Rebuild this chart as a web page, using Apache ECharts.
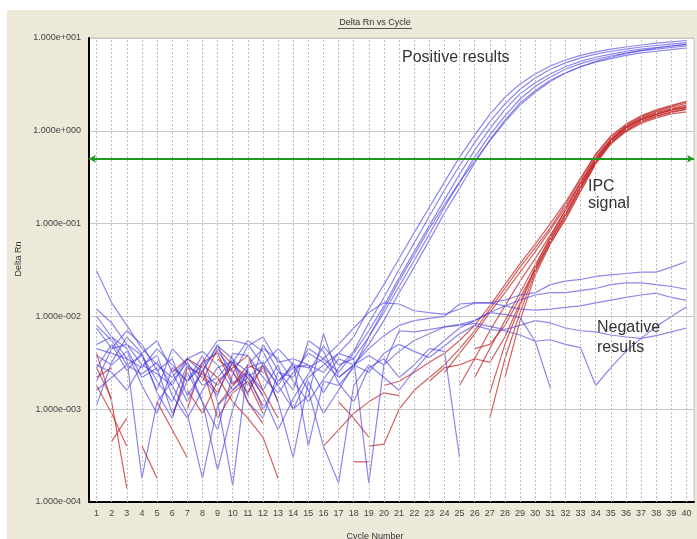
<!DOCTYPE html>
<html>
<head>
<meta charset="utf-8">
<script src="https://cdn.jsdelivr.net/npm/echarts@6/dist/echarts.min.js"></script>
<style>
html, body { margin: 0; padding: 0; width: 697px; height: 539px; background: #ffffff; overflow: hidden; }
#bg { position: absolute; left: 7px; top: 10px; width: 690px; height: 529px; background: #ECE9D8; }
#chart { position: absolute; left: 0; top: 0; width: 697px; height: 539px; }
</style>
</head>
<body>
<div id="bg"></div>
<div id="chart"></div>
<script>
// ---------- data ----------
const cycles = ['1','2','3','4','5','6','7','8','9','10','11','12','13','14','15','16','17','18','19','20',
                '21','22','23','24','25','26','27','28','29','30','31','32','33','34','35','36','37','38','39','40'];

const yTickLabels = ['1.000e-004','1.000e-003','1.000e-002','1.000e-001','1.000e+000','1.000e+001'];

const thresholdValue = 0.5;

// Positive samples (blue)
const pos1 = [0.031,0.014,0.0080,0.0045,0.0030,0.0022,0.0035,0.0025,0.0018,0.0032,
              0.0055,0.0042,0.0020,0.0028,0.0030,0.0025,0.0040,0.0060,0.012,0.022,
              0.042,0.080,0.15,0.28,0.52,0.90,1.5,2.3,3.2,4.1,
              5.0,5.8,6.5,7.1,7.6,8.0,8.4,8.8,9.1,9.4];
const pos2 = [0.012,0.0085,0.0050,0.0038,0.0016,0.0045,0.0030,0.0012,0.0006,0.0024,
              0.0048,0.0060,0.0032,0.0035,0.0030,0.0015,0.0028,0.0042,0.0085,0.016,
              0.032,0.062,0.12,0.23,0.42,0.75,1.25,1.95,2.8,3.7,
              4.6,5.4,6.1,6.7,7.2,7.6,8.0,8.3,8.6,8.9];
const pos3 = [0.0100,0.0060,0.0045,0.0022,0.0028,0.0009,0.0020,0.0030,0.0042,0.0026,
              0.0012,0.0008,0.0025,0.0022,0.0045,0.0035,0.0025,0.0040,0.0070,0.013,
              0.026,0.050,0.095,0.18,0.34,0.62,1.05,1.7,2.5,3.3,
              4.1,4.9,5.6,6.2,6.7,7.2,7.6,7.9,8.2,8.5];
const pos4 = [0.0075,0.0045,0.0070,0.0050,0.0026,0.0035,0.0014,0.0025,0.0050,0.0019,
              0.0026,0.0014,0.0006,0.0013,0.0024,0.0048,0.0030,0.0035,0.0060,0.011,
              0.021,0.040,0.077,0.15,0.28,0.52,0.90,1.45,2.2,3.0,
              3.8,4.6,5.3,5.9,6.4,6.9,7.3,7.6,7.9,8.2];
const pos5 = [0.0045,0.0040,0.0035,0.00018,0.0012,0.0020,0.0032,0.0018,0.0022,0.0034,
              0.0025,0.0016,0.0030,0.0010,0.0014,0.0065,0.0022,0.0030,0.0050,0.0090,
              0.018,0.034,0.066,0.13,0.24,0.45,0.80,1.3,2.0,2.7,
              3.5,4.2,4.9,5.5,6.0,6.5,6.9,7.2,7.5,7.8];
const pos6 = [0.0011,0.0032,0.0060,0.0040,0.0015,0.0008,0.0025,0.0012,0.00022,0.0010,
              0.0028,0.0032,0.0018,0.0032,0.0004,0.0020,0.0018,0.0028,0.0060,0.012,
              0.024,0.046,0.088,0.16,0.28,0.47,0.78,1.25,1.9,2.6,
              3.4,4.2,4.9,5.6,6.2,6.8,7.3,7.8,8.2,8.6];

// Negative samples (blue)
const neg1 = [0.0050,0.0060,0.0035,0.0028,0.0045,0.0030,0.0020,0.0032,0.0055,0.0055,
              0.0050,0.0030,0.0045,0.0030,0.0028,0.0035,0.0050,0.0075,0.011,0.014,
              0.0136,0.0115,0.011,0.0105,0.012,0.014,0.014,0.015,0.017,0.018,
              0.022,0.024,0.025,0.027,0.028,0.029,0.030,0.030,0.034,0.039];
const neg2 = [0.0030,0.0025,0.0016,0.0030,0.0024,0.0018,0.0035,0.0042,0.0030,0.0016,
              0.0022,0.0030,0.0018,0.0010,0.0022,0.0030,0.0040,0.0035,0.00016,0.0030,
              0.0070,0.0068,0.0072,0.0077,0.0082,0.0090,0.011,0.013,0.015,0.017,
              0.018,0.018,0.019,0.020,0.022,0.023,0.023,0.022,0.021,0.0196];
const neg3 = [0.0080,0.0055,0.0030,0.0038,0.0020,0.0012,0.0030,0.0022,0.0014,0.0040,
              0.0038,0.0022,0.0015,0.0025,0.0040,0.0032,0.0022,0.0030,0.0045,0.0062,
              0.0080,0.0090,0.0095,0.010,0.0136,0.014,0.014,0.013,0.012,0.0117,
              0.012,0.0125,0.013,0.014,0.015,0.016,0.017,0.0178,0.016,0.0149];
const neg4 = [0.0038,0.0030,0.0042,0.0018,0.0009,0.0028,0.0020,0.0038,0.0012,0.00015,
              0.0030,0.0045,0.0035,0.0020,0.0012,0.0021,0.0035,0.0030,0.0025,0.0040,
              0.0050,0.0042,0.0036,0.0048,0.0065,0.0080,0.0072,0.0070,0.0063,0.0054,
              0.0056,0.0050,0.0046,0.0018,0.0028,0.0042,0.0058,0.0078,0.010,0.0126];
const neg5 = [0.0020,0.0045,0.0050,0.0030,0.0038,0.0014,0.0008,0.0016,0.0028,0.0033,
              0.0018,0.0028,0.0012,0.0003,0.0020,0.0009,0.0016,0.0030,0.0038,0.0030,
              0.0042,0.0055,0.0065,0.0077,0.0080,0.0084,0.0078,0.0072,0.0080,0.0090,
              0.0085,0.0075,0.0070,0.0068,0.0063,0.0060,0.0058,0.0062,0.0068,0.0075];
const neg6 = [0.0016,0.0022,0.0030,0.0024,0.0032,0.0018,0.0009,0.00018,0.0011,0.0016,
              0.0024,0.0010,0.0020,0.0030,0.0016,0.0004,0.00016,0.0018,0.0030,0.0022,
              0.0016,0.0026,0.0040,0.0055,0.0075,0.0090,0.011,0.0105,0.0097,0.0054,
              0.0017,null,null,null,null,null,null,null,null,null];
const neg7 = [0.0028,0.0050,0.0026,0.0040,0.0055,0.0025,0.0012,0.0026,0.0048,0.0035,
              0.0014,0.0050,0.0026,0.0016,0.0055,0.0042,0.0019,0.0012,0.0028,0.0035,
              0.0022,0.0030,0.0045,0.0042,0.0003,null,null,null,null,null,
              null,null,null,null,null,null,null,null,null,null];

// Internal positive control (red)
const ipc1 = [0.0040,0.0012,0.00014,null,null,null,null,0.0030,0.0022,0.0012,
              0.0008,0.0005,0.00018,null,null,null,null,null,null,null,
              null,null,null,null,null,null,0.0015,0.0050,0.013,0.032,
              0.065,0.12,0.25,0.48,0.78,1.08,1.33,1.52,1.70,1.85];
const ipc2 = [0.0022,0.0028,null,0.0004,0.00018,null,0.0010,0.0032,0.0040,0.0018,
              0.0025,0.0014,null,null,null,null,null,null,null,null,
              null,null,null,0.0025,0.0040,0.0065,0.011,0.018,0.030,0.050,
              0.085,0.15,0.28,0.52,0.82,1.12,1.38,1.60,1.80,1.98];
const ipc3 = [null,0.00045,0.0008,null,null,0.0025,0.0035,0.0028,0.0008,0.0015,
              0.0020,0.0009,null,null,null,null,null,0.00027,0.00027,null,
              null,null,null,null,null,0.0022,0.0045,0.0090,0.018,0.036,
              0.070,0.13,0.25,0.46,0.74,1.02,1.26,1.45,1.60,1.72];
const ipc4 = [0.0028,0.0013,null,null,null,null,null,null,0.0035,0.0025,
              0.0015,0.0030,0.0012,null,null,null,null,null,0.0004,0.00042,
              0.0010,0.0016,0.0022,0.0030,0.0045,0.0070,0.012,0.020,0.034,0.055,
              0.090,0.16,0.30,0.55,0.86,1.15,1.42,1.65,1.85,2.05];
const ipc5 = [null,null,null,null,null,0.0008,0.0028,0.0024,0.0015,0.0032,
              0.0012,0.0007,null,null,null,null,null,null,null,null,
              null,null,null,null,null,null,0.0008,0.0035,0.011,0.030,
              0.062,0.11,0.22,0.44,0.72,0.98,1.20,1.38,1.52,1.60];
const ipc6 = [null,null,null,null,null,null,0.0016,0.0009,0.0020,0.0028,
              0.0038,0.0016,0.0008,null,null,0.0004,0.0006,0.0009,0.0012,0.0015,
              0.0014,null,null,null,0.0018,0.0035,0.0070,0.013,0.024,0.042,
              0.075,0.14,0.27,0.50,0.80,1.08,1.32,1.50,1.68,1.80];
const ipc7 = [0.0018,0.0009,0.0004,null,null,null,null,0.0020,0.0045,0.0030,
              0.0022,0.0011,null,null,null,null,null,null,null,null,
              null,null,0.0020,0.0028,0.0030,0.0035,0.0032,0.0060,0.014,0.034,
              0.072,0.14,0.27,0.50,0.80,1.10,1.35,1.56,1.74,1.90];
const ipc8 = [null,null,null,null,null,null,null,null,0.0011,0.0018,
              0.0030,0.0025,null,null,null,null,null,null,null,0.0018,
              0.0020,0.0025,0.0032,0.0040,0.0055,0.0080,0.013,0.022,0.037,0.060,
              0.10,0.17,0.31,0.56,0.88,1.18,1.45,1.68,1.88,2.08];
const ipc9 = [null,null,null,null,0.0012,0.0006,0.0003,null,null,null,
              null,null,null,null,null,null,null,null,null,null,
              null,null,null,null,null,null,null,0.0022,0.0090,0.028,
              0.060,0.115,0.23,0.45,0.75,1.00,1.24,1.42,1.58,1.70];
const ipc10 = [null,null,null,null,null,null,null,null,null,null,
               null,null,null,null,null,null,0.0012,0.0008,0.0005,null,
               null,null,null,null,null,0.0045,0.0050,0.0080,0.016,0.032,
               0.066,0.125,0.24,0.47,0.76,1.05,1.30,1.50,1.66,1.78];

const blueSeries = [pos1,pos2,pos3,pos4,pos5,pos6,neg1,neg2,neg3,neg4,neg5,neg6,neg7];
const redSeries = [ipc1,ipc2,ipc3,ipc4,ipc5,ipc6,ipc7,ipc8,ipc9,ipc10];

// ---------- chart ----------
const FONT = '"Liberation Sans", Arial, sans-serif';
const chart = echarts.init(document.getElementById('chart'), null, {renderer: 'canvas'});

const series = [];
// vertical grid lines at each cycle
series.push({
  type: 'line', data: [], silent: true, z: 1,
  markLine: {
    silent: true, symbol: 'none', animation: false,
    label: {show: false},
    lineStyle: {color: '#bdbdbd', type: [2, 2], width: 1},
    data: cycles.map((c, i) => ({xAxis: i}))
  }
});
redSeries.forEach(d => series.push({
  type: 'line', data: d, symbol: 'none', showSymbol: false, connectNulls: false, z: 3,
  lineStyle: {color: 'rgba(195,35,35,0.72)', width: 1.2}
}));
blueSeries.forEach(d => series.push({
  type: 'line', data: d, symbol: 'none', showSymbol: false, connectNulls: false, z: 3,
  lineStyle: {color: 'rgba(70,60,225,0.62)', width: 1.2}
}));
// threshold
series.push({
  type: 'line', data: [], silent: true, z: 5,
  markLine: {
    silent: true, animation: false,
    symbol: ['arrow', 'arrow'], symbolSize: [6, 7],
    label: {show: false},
    lineStyle: {color: '#1f9a1f', type: 'solid', width: 2},
    data: [{yAxis: thresholdValue}]
  }
});

chart.setOption({
  animation: false,
  backgroundColor: 'transparent',
  grid: {left: 89, right: 3, top: 38, bottom: 37, show: true,
         backgroundColor: '#ffffff', borderColor: '#c4c4c4', borderWidth: 1},
  xAxis: {
    type: 'category', data: cycles, boundaryGap: true,
    axisLine: {show: true, lineStyle: {color: '#000', width: 2}},
    axisTick: {show: false},
    axisLabel: {interval: 0, fontSize: 9, color: '#444', margin: 7, fontFamily: FONT},
    splitLine: {show: false}
  },
  yAxis: {
    type: 'log', logBase: 10, min: 0.0001, max: 10,
    axisLine: {show: true, lineStyle: {color: '#000', width: 2}},
    axisTick: {show: false},
    axisLabel: {
      fontSize: 9, color: '#444', margin: 8, fontFamily: FONT,
      formatter: v => yTickLabels[Math.round(Math.log10(v)) + 4]
    },
    splitLine: {show: true, lineStyle: {color: '#c8c8c8', width: 1}}
  },
  graphic: [
    {type: 'text', x: 375, y: 23, style: {text: 'Delta Rn vs Cycle', fontSize: 9, fontFamily: FONT, fill: '#333', align: 'center', verticalAlign: 'middle'}},
    {type: 'line', shape: {x1: 338, y1: 28.5, x2: 412, y2: 28.5}, style: {stroke: '#555', lineWidth: 1}},
    {type: 'text', x: 19, y: 259, rotation: Math.PI / 2, style: {text: 'Delta Rn', fontSize: 9, fontFamily: FONT, fill: '#333', align: 'center', verticalAlign: 'middle'}},
    {type: 'text', x: 375, y: 537, style: {text: 'Cycle Number', fontSize: 9, fontFamily: FONT, fill: '#333', align: 'center', verticalAlign: 'middle'}},
    {type: 'text', x: 402, y: 58, z: 10, style: {text: 'Positive results', fontSize: 16, fontFamily: FONT, fill: '#333', align: 'left', verticalAlign: 'middle'}},
    {type: 'text', x: 588, y: 186.5, z: 10, style: {text: 'IPC', fontSize: 16, fontFamily: FONT, fill: '#333', align: 'left', verticalAlign: 'middle'}},
    {type: 'text', x: 588, y: 203.5, z: 10, style: {text: 'signal', fontSize: 16, fontFamily: FONT, fill: '#333', align: 'left', verticalAlign: 'middle'}},
    {type: 'text', x: 597, y: 328, z: 10, style: {text: 'Negative', fontSize: 16, fontFamily: FONT, fill: '#333', align: 'left', verticalAlign: 'middle'}},
    {type: 'text', x: 597, y: 348, z: 10, style: {text: 'results', fontSize: 16, fontFamily: FONT, fill: '#333', align: 'left', verticalAlign: 'middle'}}
  ],
  series: series
});
</script>
</body>
</html>
